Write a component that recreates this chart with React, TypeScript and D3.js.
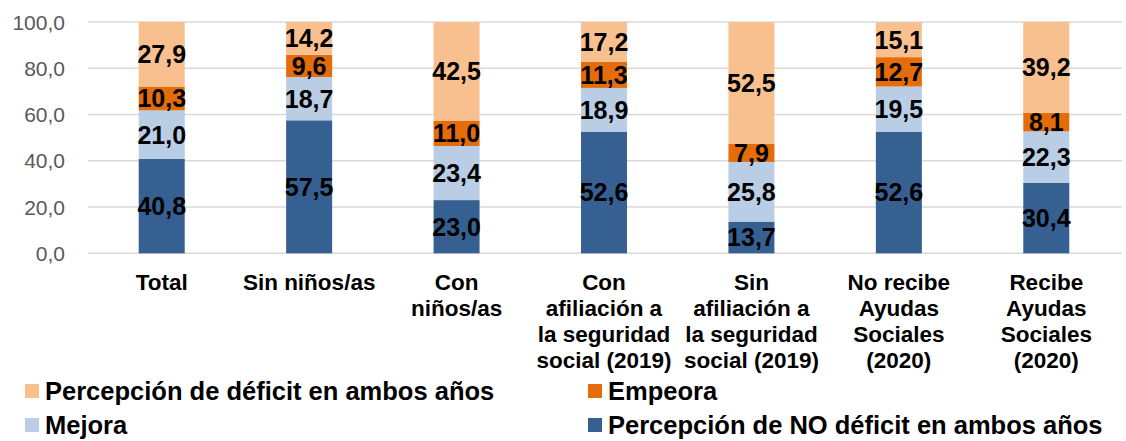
import React from "react";
import * as d3 from "d3";

const categories: string[][] = [
  ["Total"],
  ["Sin niños/as"],
  ["Con", "niños/as"],
  ["Con", "afiliación a", "la seguridad", "social (2019)"],
  ["Sin", "afiliación a", "la seguridad", "social (2019)"],
  ["No recibe", "Ayudas", "Sociales", "(2020)"],
  ["Recibe", "Ayudas", "Sociales", "(2020)"],
];
const noDeficit = [40.8, 57.5, 23.0, 52.6, 13.7, 52.6, 30.4];
const mejora = [21.0, 18.7, 23.4, 18.9, 25.8, 19.5, 22.3];
const empeora = [10.3, 9.6, 11.0, 11.3, 7.9, 12.7, 8.1];
const deficit = [27.9, 14.2, 42.5, 17.2, 52.5, 15.1, 39.2];
const seriesNames = [
  "Percepción de NO déficit en ambos años",
  "Mejora",
  "Empeora",
  "Percepción de déficit en ambos años",
];
const seriesColors = ["#376092", "#B9CDE5", "#E46C0A", "#F9C08F"];
const yTicks = [0, 20, 40, 60, 80, 100];

const W = 1126;
const H = 441;
const FONT = "'Liberation Sans', Arial, sans-serif";

export default function App() {
  const x = d3
    .scaleBand<number>()
    .domain(categories.map((_, i) => i))
    .range([88, 1120])
    .paddingInner(0.688)
    .paddingOuter(0.344);
  const y = d3.scaleLinear().domain([0, 100]).range([253.3, 22]);

  const table = categories.map((_, i) => ({
    i,
    s0: noDeficit[i],
    s1: mejora[i],
    s2: empeora[i],
    s3: deficit[i],
  }));
  const stack = d3.stack<any>().keys(["s0", "s1", "s2", "s3"]);
  const layers = stack(table);
  const fmt = (v: number) => v.toFixed(1).replace(".", ",");

  const legendItems = [
    { s: 3, x: 25, y: 391 },
    { s: 2, x: 588, y: 391 },
    { s: 1, x: 25, y: 425 },
    { s: 0, x: 588, y: 425 },
  ];

  return (
    <svg
      width={W}
      height={H}
      style={{ position: "absolute", left: 0, top: 0, background: "#fff" }}
      fontFamily={FONT}
    >
      {yTicks.map((t) => (
        <g key={t}>
          <line
            x1={88}
            x2={1122}
            y1={y(t)}
            y2={y(t)}
            stroke="#D9D9D9"
            strokeWidth={1.5}
          />
          <text
            x={65}
            y={y(t)}
            dy="0.36em"
            textAnchor="end"
            fontSize={21}
            fill="#595959"
          >
            {fmt(t)}
          </text>
        </g>
      ))}
      {layers.map((layer, si) => (
        <g key={si} fill={seriesColors[si]}>
          {layer.map((d, i) => (
            <rect
              key={i}
              x={x(i)!}
              width={x.bandwidth()}
              y={y(d[1])}
              height={y(d[0]) - y(d[1])}
            />
          ))}
        </g>
      ))}
      {layers.map((layer, si) => (
        <g key={"l" + si}>
          {layer.map((d, i) => (
            <text
              key={i}
              x={x(i)! + x.bandwidth() / 2}
              y={(y(d[0]) + y(d[1])) / 2}
              dy="0.36em"
              textAnchor="middle"
              fontSize={25}
              fontWeight="bold"
              fill="#000"
            >
              {fmt(d[1] - d[0])}
            </text>
          ))}
        </g>
      ))}
      {categories.map((lines, i) => (
        <g key={"c" + i}>
          {lines.map((ln, k) => (
            <text
              key={k}
              x={x(i)! + x.bandwidth() / 2}
              y={290 + k * 26}
              textAnchor="middle"
              fontSize={22.5}
              fontWeight="bold"
              fill="#000"
            >
              {ln}
            </text>
          ))}
        </g>
      ))}
      {legendItems.map((it) => (
        <g key={"lg" + it.s}>
          <rect
            x={it.x}
            y={it.y - 7}
            width={14}
            height={14}
            fill={seriesColors[it.s]}
          />
          <text
            x={it.x + 20}
            y={it.y}
            dy="0.36em"
            fontSize={25.5}
            fontWeight="bold"
            fill="#000"
          >
            {seriesNames[it.s]}
          </text>
        </g>
      ))}
    </svg>
  );
}
